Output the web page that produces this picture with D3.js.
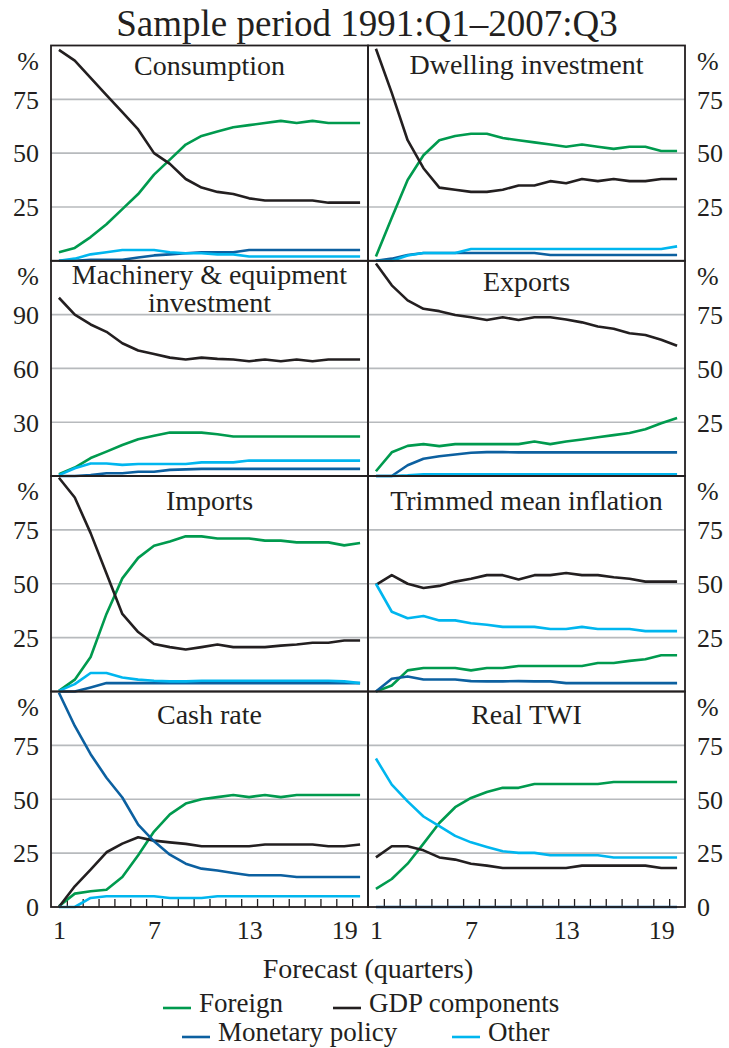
<!DOCTYPE html>
<html>
<head>
<meta charset="utf-8">
<script src="https://cdn.jsdelivr.net/npm/d3@7"></script>
<style>
  body { margin: 0; background: #fff; }
  text { font-family: "Liberation Serif", "Times New Roman", serif; fill: #231f20; }
</style>
</head>
<body>
<svg id="chart" width="729" height="1048"></svg>
<script>
// forecast horizon, quarters
const quarters = [1, 2, 3, 4, 5, 6, 7, 8, 9, 10, 11, 12, 13, 14, 15, 16, 17, 18, 19, 20]
const xTickLabels = [1, 7, 13, 19]
const seriesNames = ["Foreign", "GDP components", "Monetary policy", "Other"]

// Consumption
const consumptionForeign = [4, 6, 11, 17, 24, 31, 40, 47, 54, 58, 60, 62, 63, 64, 65, 64, 65, 64, 64, 64]
const consumptionGdp = [98, 93, 85, 77, 69, 61, 50, 45, 38, 34, 32, 31, 29, 28, 28, 28, 28, 27, 27, 27]
const consumptionMonetary = [0, 0, 0.5, 0.5, 0.5, 1.5, 2.5, 3, 3.5, 4, 4, 4, 5, 5, 5, 5, 5, 5, 5, 5]
const consumptionOther = [0, 1, 3, 4, 5, 5, 5, 4, 3.5, 3.5, 3, 3, 2, 2, 2, 2, 2, 2, 2, 2]

// Dwelling investment
const dwellingForeign = [2, 20, 37.5, 49, 56, 58, 59, 59, 57, 56, 55, 54, 53, 54, 53, 52, 53, 53, 51, 51]
const dwellingGdp = [98.5, 78, 56, 43, 34, 33, 32, 32, 33, 35, 35, 37, 36, 38, 37, 38, 37, 37, 38, 38]
const dwellingMonetary = [0, 1, 2.7, 3.6, 3.6, 3.6, 3.6, 3.6, 3.6, 3.6, 3.6, 2.7, 2.7, 2.7, 2.7, 2.7, 2.7, 2.7, 2.7, 2.7]
const dwellingOther = [0, 0, 2.5, 3.6, 3.6, 3.6, 5.5, 5.5, 5.5, 5.5, 5.5, 5.5, 5.5, 5.5, 5.5, 5.5, 5.5, 5.5, 5.5, 6.7]

// Machinery & equipment investment
const machineryForeign = [1, 4.7, 10, 13.6, 17.3, 20.5, 22.4, 24.2, 24.2, 24.2, 23.3, 22, 22, 22, 22, 22, 22, 22, 22, 22]
const machineryGdp = [99.4, 90, 84.5, 80.4, 74, 70, 68, 66, 65, 66, 65.3, 65, 64, 65, 64, 65, 64, 65, 65, 65]
const machineryMonetary = [0, 0, 0.5, 1.5, 1.5, 2.4, 2.4, 3.4, 3.7, 4, 4, 4, 4, 4, 4, 4, 4, 4, 4, 4]
const machineryOther = [0.5, 4.3, 7, 7, 6.2, 6.7, 6.7, 6.7, 6.7, 7.6, 7.6, 7.6, 8.6, 8.6, 8.6, 8.6, 8.6, 8.6, 8.6, 8.6]

// Exports
const exportsForeign = [2.2, 11, 14, 14.8, 13.9, 14.8, 14.8, 14.8, 14.8, 14.8, 16, 14.8, 16, 17, 18, 19, 20, 21.7, 24.5, 26.9]
const exportsGdp = [98.7, 88.6, 81.6, 77.7, 76.6, 74.8, 73.8, 72.5, 73.8, 72.5, 73.8, 73.8, 72.7, 71.4, 69.5, 68.4, 66.3, 65.5, 63.3, 60.5]
const exportsMonetary = [0, 0, 5, 8, 9.2, 10, 10.8, 11.1, 11.1, 11, 11, 11, 11, 11, 11, 11, 11, 11, 11, 11]
const exportsOther = [0, 0, 0.3, 0.8, 0.8, 0.8, 0.8, 0.8, 0.8, 0.8, 0.8, 0.8, 0.8, 0.8, 0.8, 0.8, 0.8, 0.8, 0.8, 0.8]

// Imports
const importsForeign = [0.3, 5.5, 16, 36, 52.5, 62, 67.6, 69.6, 72, 72, 71, 71, 71, 70, 70, 69.2, 69.2, 69.2, 67.8, 68.9]
const importsGdp = [99.2, 90, 73.5, 54.8, 36, 27.6, 22, 20.6, 19.5, 20.6, 21.8, 20.6, 20.6, 20.6, 21.3, 21.8, 22.6, 22.6, 23.7, 23.7]
const importsMonetary = [0, 0, 1.9, 3.9, 3.9, 3.9, 3.9, 3.9, 3.9, 3.9, 3.9, 3.9, 3.9, 3.9, 3.9, 3.9, 3.9, 3.9, 3.9, 3.9]
const importsOther = [0.3, 3.4, 8.6, 8.6, 6.5, 5.5, 5, 4.7, 4.7, 5, 5, 5, 5, 5, 5, 5, 5, 5, 4.7, 3.9]

// Trimmed mean inflation
const inflationForeign = [0, 2.8, 9.8, 10.9, 10.9, 10.9, 9.8, 10.9, 10.9, 11.8, 11.8, 11.8, 11.8, 11.8, 13.2, 13.2, 14.2, 15, 16.8, 16.8]
const inflationGdp = [49.5, 54, 50, 48, 49, 51, 52.3, 54, 54, 52, 54, 54, 55, 54, 54, 53, 52.3, 51, 51, 51]
const inflationMonetary = [0, 5.9, 7, 5.6, 5.6, 5.6, 4.8, 4.7, 4.7, 4.8, 4.7, 4.7, 3.9, 3.9, 3.9, 3.9, 3.9, 3.9, 3.9, 3.9]
const inflationOther = [50, 37, 34, 35, 33, 33, 31.7, 31, 30, 30, 30, 29, 29, 30, 29, 29, 29, 28, 28, 28]

// Cash rate
const cashForeign = [0.3, 6.2, 7.3, 8, 13.9, 24, 35, 43, 48, 50, 51, 52, 51, 52, 51, 52, 52, 52, 52, 52]
const cashGdp = [0, 9.6, 17.3, 25.4, 29.4, 32.4, 30.8, 30, 29.3, 28.2, 28.2, 28.2, 28.2, 29, 29, 29, 29, 28.2, 28.2, 29]
const cashMonetary = [99.4, 84, 70.9, 60, 50.8, 38.2, 30.5, 24.3, 20.1, 17.8, 16.9, 15.8, 14.7, 14.7, 14.7, 13.9, 13.9, 13.9, 13.9, 13.9]
const cashOther = [0, 0, 4.2, 5, 5, 5, 5, 4.2, 4.2, 4.2, 5, 5, 5, 5, 5, 5, 5, 5, 5, 5]

// Real TWI
const twiForeign = [8.4, 13, 20.1, 29.4, 39, 46.3, 50.6, 53.4, 55.3, 55.3, 57.1, 57.1, 57.1, 57.1, 57.1, 58, 58, 58, 58, 58]
const twiGdp = [23, 28.2, 28.2, 26.3, 23, 22, 20.1, 19.2, 18.1, 18.1, 18.1, 18.1, 18.1, 19.2, 19.2, 19.2, 19.2, 19.2, 18.1, 18.1]
const twiMonetary = [0, 0, 0, 0, 0, 0, 0, 0, 0, 0, 0, 0, 0, 0, 0, 0, 0, 0, 0, 0]
const twiOther = [68.9, 56.8, 49, 42, 37.5, 33, 30, 27.9, 25.9, 25.1, 25.1, 24, 24, 24, 24, 23, 23, 23, 23, 23]

const colors = ["#009a4e", "#231f20", "#0c60a0", "#00b6ef"]

const panels = [
  { title: ["Consumption"], row: 0, col: 0, max: 100, ticks: [25, 50, 75], titleDy: 29,
    series: [consumptionForeign, consumptionGdp, consumptionMonetary, consumptionOther] },
  { title: ["Dwelling investment"], row: 0, col: 1, max: 100, ticks: [25, 50, 75], titleDy: 28,
    series: [dwellingForeign, dwellingGdp, dwellingMonetary, dwellingOther] },
  { title: ["Machinery & equipment", "investment"], row: 1, col: 0, max: 120, ticks: [30, 60, 90], titleDy: 23,
    series: [machineryForeign, machineryGdp, machineryMonetary, machineryOther] },
  { title: ["Exports"], row: 1, col: 1, max: 100, ticks: [25, 50, 75], titleDy: 30,
    series: [exportsForeign, exportsGdp, exportsMonetary, exportsOther] },
  { title: ["Imports"], row: 2, col: 0, max: 100, ticks: [25, 50, 75], titleDy: 34,
    series: [importsForeign, importsGdp, importsMonetary, importsOther] },
  { title: ["Trimmed mean inflation"], row: 2, col: 1, max: 100, ticks: [25, 50, 75], titleDy: 34,
    series: [inflationForeign, inflationGdp, inflationMonetary, inflationOther] },
  { title: ["Cash rate"], row: 3, col: 0, max: 100, ticks: [0, 25, 50, 75], titleDy: 32,
    series: [cashForeign, cashGdp, cashMonetary, cashOther] },
  { title: ["Real TWI"], row: 3, col: 1, max: 100, ticks: [0, 25, 50, 75], titleDy: 32,
    series: [twiForeign, twiGdp, twiMonetary, twiOther] },
]

const colX = [51, 368, 685]
const rowY = [45.5, 260.8, 476, 691.5, 907]

const svg = d3.select("#chart")

svg.append("text")
  .attr("x", 367).attr("y", 36)
  .attr("text-anchor", "middle")
  .attr("font-size", 37)
  .text("Sample period 1991:Q1\u20132007:Q3")

panels.forEach(p => {
  const x0 = colX[p.col], x1 = colX[p.col + 1]
  const y0 = rowY[p.row], y1 = rowY[p.row + 1]

  const x = d3.scaleLinear().domain([0.5, 20.5]).range([x0, x1])
  const y = d3.scaleLinear().domain([0, p.max]).range([y1, y0])

  const g = svg.append("g")

  // gridlines
  g.append("g")
    .selectAll("line")
    .data(p.ticks.filter(t => t > 0))
    .enter().append("line")
      .attr("x1", x0).attr("x2", x1)
      .attr("y1", d => y(d)).attr("y2", d => y(d))
      .attr("stroke", "#b7babd")
      .attr("stroke-width", 1.6)

  // y tick labels
  const yAxis = p.col === 0
    ? d3.axisLeft(y).tickValues(p.ticks).tickSize(0).tickPadding(12)
    : d3.axisRight(y).tickValues(p.ticks).tickSize(0).tickPadding(12)
  const ya = g.append("g")
    .attr("transform", `translate(${p.col === 0 ? x0 : x1},0)`)
    .call(yAxis)
  ya.select(".domain").remove()
  ya.selectAll("text")
    .attr("font-size", 26)
    .attr("font-family", "Liberation Serif, Times New Roman, serif")
    .attr("fill", "#231f20")
    .attr("dy", "0.34em")

  g.append("text")
    .attr("x", p.col === 0 ? x0 - 12 : x1 + 12)
    .attr("y", y0 + 24)
    .attr("text-anchor", p.col === 0 ? "end" : "start")
    .attr("font-size", 26)
    .text("%")

  // bottom row: category ticks and labels
  if (p.row === 3) {
    const tickAxis = d3.axisBottom(x)
      .tickValues(quarters.slice(0, 19).map(q => q + 0.5))
      .tickSizeInner(-8).tickSizeOuter(0).tickFormat("")
    const ta = g.append("g").attr("transform", `translate(0,${y1})`).call(tickAxis)
    ta.select(".domain").remove()
    ta.selectAll("line").attr("stroke", "#231f20").attr("stroke-width", 1.3)

    const labelAxis = d3.axisBottom(x).tickValues(xTickLabels).tickSize(0).tickPadding(14)
    const la = g.append("g").attr("transform", `translate(0,${y1})`).call(labelAxis)
    la.select(".domain").remove()
    la.selectAll("text")
      .attr("font-size", 26)
      .attr("font-family", "Liberation Serif, Times New Roman, serif")
      .attr("fill", "#231f20")
  }

  // lines
  const line = d3.line()
    .x((d, i) => x(quarters[i]))
    .y(d => y(d))

  p.series.forEach((s, i) => {
    g.append("path")
      .datum(s)
      .attr("fill", "none")
      .attr("stroke", colors[i])
      .attr("stroke-width", 2.6)
      .attr("stroke-linejoin", "round")
      .attr("d", line)
  })

  // panel title
  p.title.forEach((t, i) => {
    g.append("text")
      .attr("x", (x0 + x1) / 2)
      .attr("y", y0 + p.titleDy + i * 28)
      .attr("text-anchor", "middle")
      .attr("font-size", 28)
      .text(t)
  })

  // frame
  g.append("rect")
    .attr("x", x0).attr("y", y0)
    .attr("width", x1 - x0).attr("height", y1 - y0)
    .attr("fill", "none")
    .attr("stroke", "#231f20")
    .attr("stroke-width", 1.8)
})

svg.append("text")
  .attr("x", 368).attr("y", 978)
  .attr("text-anchor", "middle")
  .attr("font-size", 28)
  .text("Forecast (quarters)")

// legend, two rows
const legendItems = [
  { x: 163, y: 1012 },
  { x: 333, y: 1012 },
  { x: 182, y: 1041 },
  { x: 452, y: 1041 },
]

const legend = svg.append("g")
legendItems.forEach((item, i) => {
  legend.append("line")
    .attr("x1", item.x).attr("x2", item.x + 28)
    .attr("y1", item.y - 4).attr("y2", item.y - 4)
    .attr("stroke", colors[i])
    .attr("stroke-width", 2.6)
  legend.append("text")
    .attr("x", item.x + 36)
    .attr("y", item.y)
    .attr("font-size", 27)
    .text(seriesNames[i])
})
</script>
</body>
</html>
